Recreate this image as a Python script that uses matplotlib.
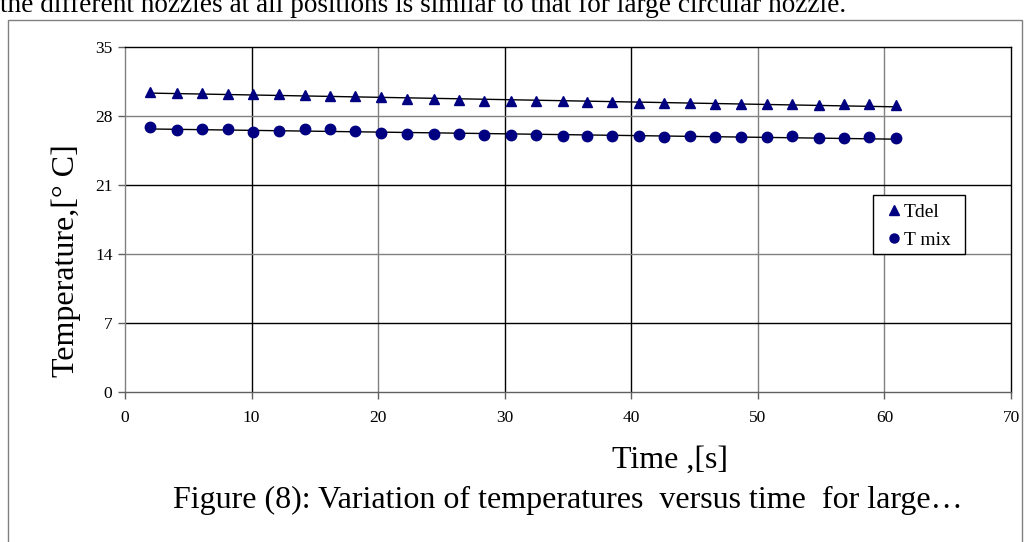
"""Temperature vs time for the large nozzle (Tdel and T mix)."""

import matplotlib

matplotlib.use("Agg")
import matplotlib.pyplot as plt
import numpy as np
from matplotlib.lines import Line2D
from matplotlib.patches import Rectangle

plt.rcParams["font.family"] = ["Liberation Serif", "DejaVu Serif"]

# Data
time_s = [2.0, 4.1, 6.1, 8.1, 10.1, 12.2, 14.2, 16.2, 18.2, 20.2,
          22.3, 24.4, 26.4, 28.4, 30.5, 32.5, 34.6, 36.5, 38.5, 40.6,
          42.6, 44.6, 46.6, 48.7, 50.7, 52.7, 54.8, 56.8, 58.8, 60.9]
t_del = [30.43, 30.33, 30.33, 30.26, 30.19, 30.19, 30.09, 30.02, 29.99, 29.88,
         29.68, 29.68, 29.58, 29.54, 29.51, 29.54, 29.51, 29.41, 29.41, 29.34,
         29.31, 29.34, 29.2, 29.2, 29.17, 29.17, 29.07, 29.17, 29.17, 29.07]
t_mix = [26.92, 26.59, 26.69, 26.65, 26.35, 26.52, 26.65, 26.65, 26.52, 26.24,
         26.18, 26.18, 26.18, 26.11, 26.11, 26.07, 25.97, 25.97, 25.97, 26.01,
         25.9, 25.94, 25.84, 25.84, 25.9, 25.97, 25.73, 25.77, 25.84, 25.73]
x_ticks = [0, 10, 20, 30, 40, 50, 60, 70]
y_ticks = [0, 7, 14, 21, 28, 35]

NAVY = "#000080"
W, H = 1026, 542

fig = plt.figure(figsize=(10.26, 5.42), dpi=100)

# Page frame and clipped sentence from the document above the chart
fig.patches.append(Rectangle((8 / W, -0.05), 1014 / W, 1.05 - 20 / H,
                             transform=fig.transFigure, fill=False,
                             edgecolor="#808080", linewidth=1.0))
fig.text(0.0, 1 - 12 / H,
         "the different nozzles at all positions is similar to that for large circular nozzle.",
         fontsize=19.6, va="baseline", ha="left")

ax = fig.add_axes([125 / W, 1 - 392 / H, 886 / W, 345 / H])
ax.set_xlim(0, 70)
ax.set_ylim(0, 35)
ax.set_xticks(x_ticks)
ax.set_yticks(y_ticks)

# Gridlines (alternating dark / grey as in the source)
v_colors = {10: "black", 20: "#808080", 30: "black", 40: "black", 50: "#808080", 60: "#808080"}
for xv, c in v_colors.items():
    ax.axvline(xv, color=c, linewidth=1.0, zorder=1)
h_colors = {7: "black", 14: "#808080", 21: "black", 28: "#808080"}
for yv, c in h_colors.items():
    ax.axhline(yv, color=c, linewidth=1.0, zorder=1)

ax.spines["top"].set_color("black")
ax.spines["right"].set_color("black")
ax.spines["left"].set_color("#808080")
ax.spines["bottom"].set_color("#606060")
for s in ax.spines.values():
    s.set_linewidth(1.0)

ax.tick_params(axis="both", direction="out", length=5, width=1, color="#606060",
               labelsize=12.5)
ax.tick_params(axis="x", pad=8)
ax.tick_params(axis="y", pad=4)

# Linear trend lines
xs = np.array(time_s)
for ys in (t_del, t_mix):
    k, b = np.polyfit(xs, ys, 1)
    ax.plot([xs[0], xs[-1]], [k * xs[0] + b, k * xs[-1] + b], color="black",
            linewidth=1.0, zorder=2)

ax.plot(time_s, t_del, linestyle="none", marker="^", markersize=7.5,
        color=NAVY, zorder=3)
ax.plot(time_s, t_mix, linestyle="none", marker="o", markersize=7.5,
        color=NAVY, zorder=3)

# Legend: plain box drawn separately, entries inside without frame
ax.add_patch(Rectangle((873 / W, 1 - 254 / H), 92 / W, 59 / H,
                       transform=fig.transFigure, facecolor="white",
                       edgecolor="black", linewidth=1.0, zorder=4,
                       clip_on=False))
handles = [
    Line2D([], [], linestyle="none", marker="^", markersize=6.5, color=NAVY),
    Line2D([], [], linestyle="none", marker="o", markersize=6.5, color=NAVY),
]
leg = ax.legend(handles, ["Tdel", "T mix"], loc="upper left",
                bbox_to_anchor=((887 - 125) / 886, (392 - 203) / 345),
                fontsize=14, frameon=False, handlelength=0.7,
                handletextpad=0.15, borderpad=0.0, labelspacing=0.55,
                borderaxespad=0)
leg.set_zorder(5)

fig.text(66 / W, 1 - 261 / H, "Temperature,[° C]", rotation=90,
         fontsize=23, ha="center", va="center")
fig.text(670 / W, 1 - 460 / H, "Time ,[s]", fontsize=23,
         ha="center", va="center")
fig.text(568 / W, 1 - 500 / H,
         "Figure (8): Variation of temperatures  versus time  for large\u2026",
         fontsize=23, ha="center", va="center")

fig.savefig("out.png", dpi=100)
